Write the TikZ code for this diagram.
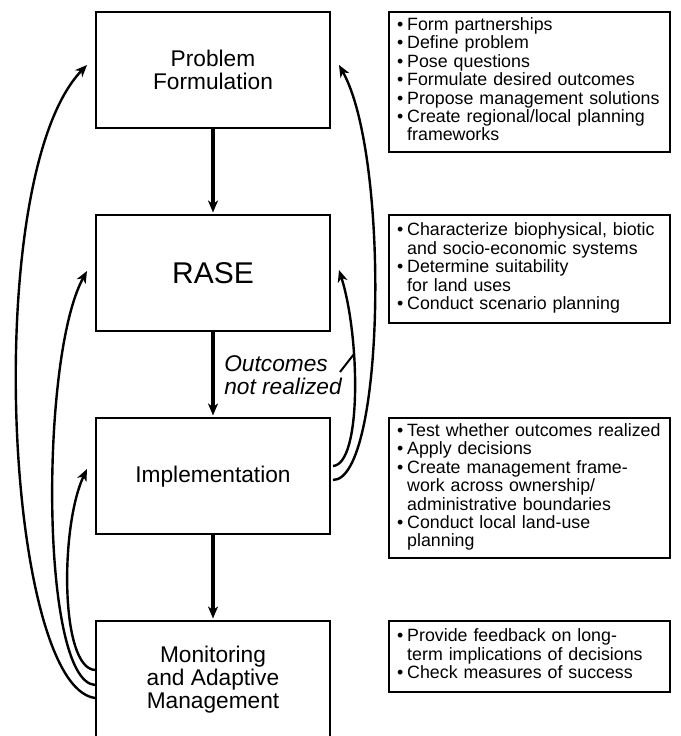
\documentclass[tikz,border=0pt]{standalone}
\usepackage{fontspec}
\setmainfont{Liberation Sans}
\usetikzlibrary{arrows.meta}
\tikzset{
  stage/.style={draw, line width=2pt, minimum width=234pt, minimum height=116pt,
    inner sep=0pt, align=center, font=\fontsize{22.7}{23}\selectfont},
  tasks/.style={draw, line width=2pt, minimum width=281pt, text width=265pt,
    inner xsep=8pt, inner ysep=0pt, align=left, font=\fontsize{17.8}{18.3}\selectfont},
  flow/.style={-{Stealth[length=12pt,width=10pt,inset=3.5pt]}, line width=3.2pt, shorten >=2pt},
  feedback/.style={-{Stealth[length=12pt,width=10pt,inset=3.5pt]}, line width=2.4pt},
}
\newcommand{\tasklist}[1]{\begin{tabular}{@{}l@{\hspace{4pt}}l@{}}#1\end{tabular}}

\begin{document}
\begin{tikzpicture}[x=1pt, y=1pt]
  \fill[white] (0,0) rectangle (680,736);
  \useasboundingbox (0,0) rectangle (680,736);

  \node[stage] (pf) at (213,666) {Problem\\Formulation};
  \node[stage, font=\fontsize{30}{32}\selectfont] (rase) at (213,462.5) {RASE};
  \node[stage] (impl) at (213,259.5) {Implementation};
  \node[stage] (mon) at (213,56.5) {Monitoring\\and Adaptive\\Management};

  \node[tasks, minimum height=140pt] (pft) at (529.5,654) {\tasklist{
    \textbullet & Form partnerships\\
    \textbullet & Define problem\\
    \textbullet & Pose questions\\
    \textbullet & Formulate desired outcomes\\
    \textbullet & Propose management solutions\\
    \textbullet & Create regional/local planning\\
    & frameworks}};
  \node[tasks, minimum height=108pt] (raset) at (529.5,467) {\tasklist{
    \textbullet & Characterize biophysical, biotic\\
    & and socio-economic systems\\
    \textbullet & Determine suitability\\
    & for land uses\\
    \textbullet & Conduct scenario planning}};
  \node[tasks, minimum height=140pt] (implt) at (529.5,248) {\tasklist{
    \textbullet & Test whether outcomes realized\\
    \textbullet & Apply decisions\\
    \textbullet & Create management frame-\\
    & work across ownership/\\
    & administrative boundaries\\
    \textbullet & Conduct local land-use\\
    & planning}};
  \node[tasks, minimum height=71pt] (mont) at (529.5,79.5) {\tasklist{
    \textbullet & Provide feedback on long-\\
    & term implications of decisions\\
    \textbullet & Check measures of success}};

  \draw[flow] (pf) -- (rase);
  \draw[flow] (rase) -- (impl);
  \draw[flow] (impl) -- (mon);

  \node[inner sep=0pt, align=left, font=\fontsize{22.7}{23}\selectfont\itshape] (nr) at (283,361) {Outcomes\\not realized};
  \coordinate (nr-a) at (340,364);
  \coordinate (nr-b) at (354,382);
  \draw[line width=2pt] (nr-a) -- (nr-b);

  \draw[feedback] ([yshift=-18.5pt]mon.west) .. controls (5,50) and (-20,560) .. ([shift={(-8pt,5pt)}]pf.west);
  \draw[feedback] ([yshift=-5.5pt]mon.west) .. controls (40,55) and (40,380) .. ([shift={(-8pt,2.5pt)}]rase.west);
  \draw[feedback] ([yshift=9.5pt]mon.west) .. controls (60,68) and (60,210) .. ([shift={(-8pt,7.5pt)}]impl.west);
  \draw[feedback] ([shift={(2pt,-3.5pt)}]impl.east) .. controls (385,256) and (390,580) .. ([shift={(8pt,5pt)}]pf.east);
  \draw[feedback] ([shift={(2pt,10.5pt)}]impl.east) .. controls (362,272) and (360,400) .. ([shift={(8pt,3.5pt)}]rase.east);
\end{tikzpicture}
\end{document}
